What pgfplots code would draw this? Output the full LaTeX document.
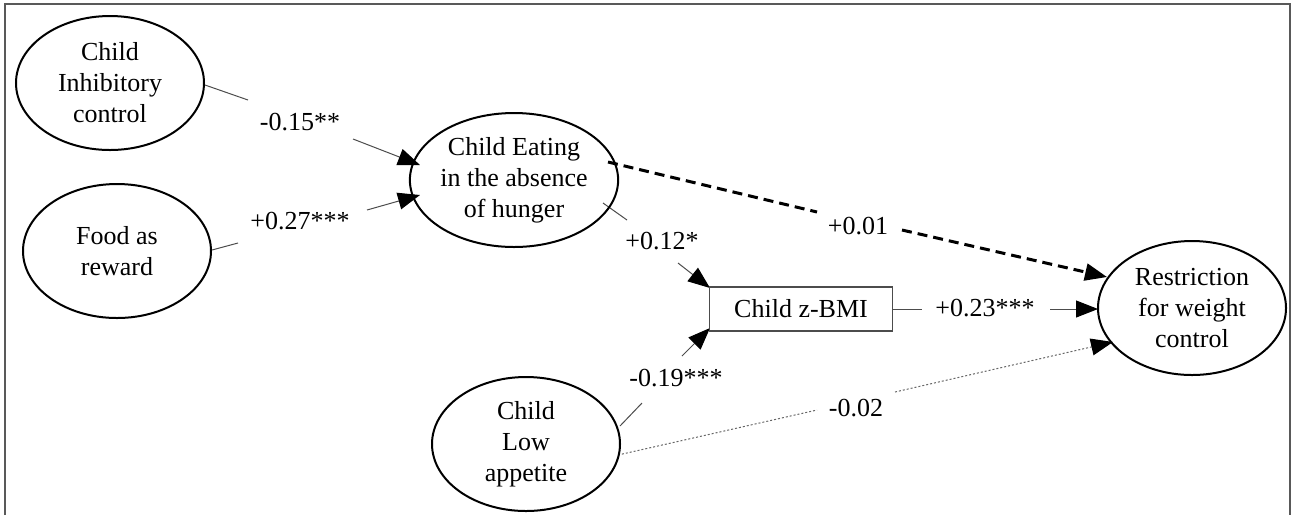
\documentclass[border=0pt]{standalone}
\usepackage{fontspec}
\setmainfont{Liberation Serif}
\usepackage{pgfplots}
\pgfplotsset{compat=1.18}
\usetikzlibrary{arrows.meta,shapes.geometric}

% path diagram laid out in pixel units of the reference (y downwards)
\tikzset{
  latent/.style={draw=black, line width=1pt, ellipse, minimum width=94pt,
    minimum height=67pt, inner sep=0pt, align=center,
    font=\fontsize{13}{15.5}\selectfont},
  observed/.style={draw=black!70, line width=0.6pt, rectangle, minimum width=91.5pt,
    minimum height=22pt, inner sep=0pt, font=\fontsize{13}{15.5}\selectfont},
  coef/.style={font=\fontsize{13}{15}\selectfont, inner sep=0pt},
  tip/.style={-{Triangle[length=11pt,width=8.5pt,color=black,fill=black]}},
}

\begin{document}
\begin{tikzpicture}
\begin{axis}[
    width=647.5pt, height=257.5pt, scale only axis,
    xmin=0, xmax=1295, ymin=0, ymax=515, y dir=reverse,
    hide axis, clip=false,
]
% outer frame
\addplot[draw=black!65, line width=1.3pt] coordinates {(5,515) (5,4) (1290,4) (1290,515)};
\addplot[draw=none] coordinates {(0,0) (1295,515)};

% Inhibitory control -> Eating
\addplot[black!70, line width=0.5pt] coordinates {(205,85) (248,100)};
\addplot[black!70, line width=0.5pt, tip] coordinates {(353,139) (420,165)};
% Food as reward -> Eating
\addplot[black!70, line width=0.5pt] coordinates {(212,250) (238,243)};
\addplot[black!70, line width=0.5pt, tip] coordinates {(367,210) (420,195)};
% Eating -> z-BMI
\addplot[black!70, line width=0.5pt] coordinates {(603,203) (627,220)};
\addplot[black!70, line width=0.5pt, tip] coordinates {(678,263) (710,288)};
% Low appetite -> z-BMI
\addplot[black!70, line width=0.5pt] coordinates {(620,426) (642,403)};
\addplot[black!70, line width=0.5pt, tip] coordinates {(682,356) (710,328)};
% Eating -> Restriction (dashed)
\addplot[black, line width=1.5pt, dash pattern=on 5pt off 3pt] coordinates {(608,162) (817,212)};
\addplot[black, line width=1.5pt, dash pattern=on 5pt off 3pt, tip] coordinates {(902,230) (1107,277)};
% z-BMI -> Restriction
\addplot[black!70, line width=0.5pt] coordinates {(893,309) (922,309)};
\addplot[black!70, line width=0.5pt, tip] coordinates {(1050,309) (1098,309)};
% Low appetite -> Restriction (dotted)
\addplot[black!60, line width=0.5pt, dash pattern=on 1pt off 1pt] coordinates {(618,455) (817,410)};
\addplot[black!60, line width=0.5pt, dash pattern=on 1pt off 1pt, tip] coordinates {(895,392) (1113,342)};

% variables
\node[latent] at (axis cs:110,83) {Child\\Inhibitory\\control};
\node[latent] at (axis cs:117,251) {Food as\\reward};
\node[latent] at (axis cs:514,180) {Child Eating\\in the absence\\of hunger};
\node[observed] at (axis cs:801,309) {Child z-BMI};
\node[latent] at (axis cs:1192,308) {Restriction\\for weight\\control};
\node[latent] at (axis cs:526,444) {Child\\Low\\appetite};

% coefficients
\node[coef] at (axis cs:300,122) {-0.15**};
\node[coef] at (axis cs:300,221) {+0.27***};
\node[coef] at (axis cs:662,241) {+0.12*};
\node[coef] at (axis cs:676,378) {-0.19***};
\node[coef] at (axis cs:858,226) {+0.01};
\node[coef] at (axis cs:985,308) {+0.23***};
\node[coef] at (axis cs:856,408) {-0.02};
\end{axis}
\end{tikzpicture}
\end{document}
